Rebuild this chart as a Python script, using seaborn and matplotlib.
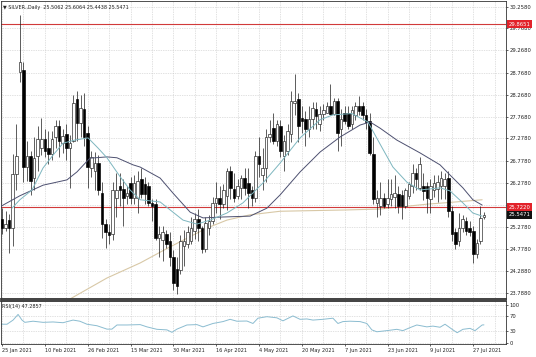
import numpy as np
import pandas as pd
import matplotlib
matplotlib.use("Agg")
import matplotlib.pyplot as plt
import matplotlib.transforms as mtransforms
import seaborn as sns

# ---------------- data ----------------
opens = [25.46, 25.26, 25.44, 25.26, 26.48, 28.77, 28.83, 26.62, 26.89, 26.39,
         26.89, 27.05, 27.27, 27.05, 26.93, 27.30, 27.57, 27.18, 27.38, 27.05,
         27.23, 28.18, 27.63, 27.95, 27.40, 26.60, 26.55, 26.73, 26.05, 25.35,
         25.15, 25.12, 25.92, 26.20, 26.14, 25.98, 26.26, 25.94, 25.94, 26.35,
         26.25, 26.20, 25.82, 25.80, 25.03, 24.98, 25.12, 24.96, 24.60, 24.32,
         24.29, 24.85, 24.90, 24.96, 25.19, 25.46, 25.24, 24.78, 25.24, 25.42,
         25.82, 25.92, 25.80, 25.98, 26.55, 26.14, 25.98, 26.16, 26.39, 26.26,
         26.10, 25.94, 26.89, 26.45, 26.60, 27.30, 27.52, 27.23, 27.56, 26.89,
         27.00, 27.38, 28.09, 28.18, 27.75, 27.72, 27.50, 27.72, 27.95, 27.60,
         27.84, 27.86, 28.02, 27.84, 28.13, 27.50, 27.86, 27.86, 27.60, 27.80,
         28.00, 28.00, 27.80, 27.68, 26.93, 25.82, 25.76, 25.94, 25.80, 25.90,
         25.95, 26.03, 26.00, 25.76, 25.98, 26.20, 26.50, 26.16, 26.20, 26.20,
         25.90, 26.10, 26.14, 26.20, 26.20, 26.39, 25.64, 25.15, 24.96, 25.24,
         25.42, 25.24, 25.19, 24.67, 24.96, 25.5062]
highs = [25.71, 25.64, 25.57, 26.93, 27.61, 30.06, 29.00, 27.23, 26.99, 27.30,
         27.55, 27.75, 27.50, 27.45, 27.45, 27.70, 27.70, 27.50, 27.60, 27.35,
         28.25, 28.36, 28.25, 28.30, 27.55, 27.00, 26.98, 26.90, 26.30, 25.45,
         25.35, 26.30, 26.50, 26.50, 26.35, 26.20, 26.40, 26.45, 26.55, 26.60,
         26.40, 26.30, 25.90, 25.90, 25.30, 25.30, 25.20, 25.15, 24.75, 24.60,
         25.10, 25.20, 25.30, 25.50, 25.60, 25.68, 25.30, 25.50, 25.55, 25.95,
         26.30, 26.20, 26.25, 26.60, 26.65, 26.50, 26.35, 26.45, 26.60, 26.60,
         26.20, 27.00, 27.30, 27.05, 27.50, 27.70, 27.85, 27.70, 27.70, 27.35,
         27.60, 28.36, 28.74, 28.30, 28.00, 27.90, 28.00, 28.10, 28.10, 28.00,
         28.05, 28.10, 28.52, 28.20, 28.20, 27.95, 28.00, 28.00, 28.00, 28.10,
         28.24, 28.10, 27.95, 27.85, 27.30, 26.10, 26.30, 26.05, 26.35, 26.35,
         26.45, 26.20, 26.10, 26.15, 26.30, 26.70, 26.60, 26.85, 26.50, 26.30,
         26.35, 26.45, 26.45, 26.55, 26.50, 26.55, 25.75, 25.25, 25.60, 25.55,
         25.50, 25.40, 25.30, 25.00, 25.75, 25.6064]
lows = [25.12, 25.19, 24.69, 24.85, 26.10, 28.55, 26.30, 26.32, 26.00, 26.10,
        26.55, 26.90, 26.85, 26.70, 26.80, 27.05, 26.85, 26.95, 26.80, 26.15,
        27.20, 27.23, 27.30, 27.10, 26.15, 26.40, 26.10, 26.00, 25.02, 24.81,
        24.90, 24.98, 25.50, 25.75, 25.30, 25.80, 25.80, 25.80, 25.60, 25.93,
        25.80, 25.75, 25.40, 24.98, 24.60, 24.50, 24.80, 24.40, 23.85, 23.76,
        24.20, 24.40, 24.80, 24.90, 25.00, 24.95, 24.68, 24.70, 25.10, 25.35,
        25.60, 25.45, 25.70, 25.65, 25.90, 25.85, 25.90, 25.90, 26.00, 25.70,
        25.75, 25.85, 26.40, 26.10, 26.30, 27.20, 27.15, 27.10, 26.85, 26.55,
        26.90, 27.20, 27.80, 27.20, 27.40, 27.10, 27.30, 27.50, 27.50, 27.45,
        27.70, 27.85, 27.80, 27.80, 27.00, 27.10, 27.60, 27.50, 27.50, 27.70,
        27.80, 27.70, 27.50, 26.90, 25.80, 25.50, 25.55, 25.70, 25.70, 25.75,
        25.70, 25.60, 25.45, 25.70, 25.90, 26.05, 26.10, 26.10, 25.88, 25.60,
        25.60, 25.95, 25.85, 25.90, 25.90, 25.50, 24.96, 24.78, 24.85, 25.15,
        25.10, 25.08, 24.46, 24.58, 24.90, 25.4438]
closes = [25.26, 25.35, 25.26, 26.48, 26.89, 29.00, 26.62, 26.89, 26.32, 26.84,
          27.27, 27.27, 27.00, 26.93, 27.27, 27.57, 27.23, 27.34, 27.05, 27.18,
          28.09, 27.63, 27.97, 27.30, 26.62, 26.86, 26.73, 26.10, 25.35, 25.15,
          25.10, 26.10, 26.10, 26.10, 25.94, 26.05, 25.94, 26.26, 26.32, 26.03,
          26.03, 25.82, 25.75, 25.03, 25.12, 25.15, 24.90, 24.60, 24.00, 23.93,
          24.96, 24.96, 25.15, 25.24, 25.46, 25.24, 24.78, 25.37, 25.42, 25.82,
          25.94, 25.80, 26.10, 26.55, 26.16, 25.94, 26.20, 26.39, 26.16, 26.05,
          25.94, 26.89, 26.70, 26.60, 27.30, 27.38, 27.23, 27.60, 27.00, 27.23,
          27.45, 28.13, 28.13, 27.57, 27.68, 27.50, 27.72, 27.97, 27.79, 27.84,
          27.91, 28.02, 27.84, 28.13, 27.41, 27.72, 27.68, 27.57, 27.91, 28.02,
          27.90, 27.80, 27.64, 26.95, 25.90, 25.94, 25.92, 25.76, 25.92, 26.03,
          26.05, 25.76, 25.76, 26.10, 26.25, 26.50, 26.35, 26.70, 26.08, 25.94,
          26.20, 26.26, 26.30, 26.39, 26.37, 25.64, 25.12, 24.90, 25.26, 25.46,
          25.19, 25.15, 24.67, 24.92, 25.48, 25.5471]

# moving-average lines, read as (bar, price) vertices
fast_ma_bar = [2.8, 5.0, 8.4, 11.5, 14.3, 17.1, 20.4, 24.1, 26.9, 29.4, 33.1, 35.9,
               38.7, 44.3, 50.7, 54.6, 58.3, 63.0, 67.5, 73.1, 77.9, 83.5, 89.1,
               92.7, 98.0, 102.5, 105.9, 109.5, 113.4, 117.1, 122.7, 125.5, 129.1,
               131.9, 134.5]
fast_ma_val = [25.70, 25.89, 26.11, 26.61, 26.90, 27.17, 27.24, 27.29, 27.06, 26.84,
               26.41, 26.11, 25.89, 25.84, 25.43, 25.34, 25.43, 25.59, 25.82, 26.27,
               26.72, 27.29, 27.70, 27.81, 27.84, 27.65, 27.15, 26.63, 26.29, 26.11,
               26.16, 26.09, 25.82, 25.59, 25.52]
slow_ma_bar = [-0.6, 5.0, 11.5, 18.2, 21.0, 24.6, 29.4, 32.2, 36.7, 38.7, 44.3, 47.9,
               52.7, 56.3, 61.9, 69.5, 74.2, 77.9, 83.5, 89.1, 94.7, 100.3, 103.1,
               105.9, 110.6, 117.1, 122.7, 125.5, 129.1, 131.9, 134.5]
slow_ma_val = [25.73, 25.98, 26.22, 26.34, 26.52, 26.83, 26.86, 26.84, 26.68, 26.63,
               26.38, 26.04, 25.61, 25.48, 25.50, 25.52, 25.70, 26.00, 26.52, 26.97,
               27.31, 27.58, 27.65, 27.51, 27.24, 26.95, 26.68, 26.45, 26.16, 25.89,
               25.77]
long_ma_bar = [18.5, 29.4, 38.7, 46.5, 57.4, 63.0, 69.5, 77.9, 96.6, 105.9, 119.0,
               125.5, 134.5]
long_ma_val = [23.62, 24.12, 24.46, 24.80, 25.25, 25.43, 25.55, 25.63, 25.66, 25.68,
               25.79, 25.83, 25.89]

rsi_bar = [-0.6, 1.4, 3.1, 4.5, 5.6, 6.4, 8.7, 11.5, 14.3, 17.1, 19.9, 21.8, 23.8,
           26.6, 29.4, 30.8, 32.2, 35.0, 38.7, 40.6, 43.4, 46.2, 47.6, 49.0, 51.8,
           54.6, 56.3, 59.1, 61.9, 63.9, 65.8, 68.6, 70.3, 71.7, 74.2, 77.0, 78.7,
           81.5, 83.5, 85.4, 87.1, 89.9, 92.7, 94.1, 95.5, 97.5, 100.3, 102.2,
           103.6, 105.0, 107.8, 110.6, 112.3, 114.3, 116.2, 119.0, 120.7, 122.7,
           124.1, 126.1, 127.5, 129.1, 131.1, 132.5, 133.3, 134.5, 135.0]
rsi_val = [49, 49, 60, 75, 60, 54, 57, 54, 55, 53, 60, 57, 49,
           45, 36, 36, 47, 47, 48, 42, 35.5, 34, 27.5, 36, 47,
           48, 42, 51, 56, 62, 57, 57.5, 51, 65, 69, 66, 58,
           71, 62, 63, 60, 62, 65, 51, 56, 57, 56, 51,
           34, 29, 32, 35.5, 32, 40, 47, 42, 44, 41,
           49, 35.5, 26.5, 35.5, 38, 32, 38, 47, 47.29]

price_ticks = [30.2580, 29.7680, 29.2680, 28.7680, 28.2680, 27.7680, 27.2780,
               26.7780, 26.2780, 25.7780, 25.2780, 24.7780, 24.2880, 23.7880]
rsi_ticks = [100, 70, 30, 0]
date_label_bars = [0, 12, 24, 36, 48, 60, 72, 84, 96, 108, 120, 132]
date_labels = ["25 Jan 2021", "10 Feb 2021", "26 Feb 2021", "15 Mar 2021",
               "30 Mar 2021", "16 Apr 2021", "4 May 2021", "20 May 2021",
               "7 Jun 2021", "23 Jun 2021", "9 Jul 2021", "27 Jul 2021"]
red_levels = [29.8651, 25.7220]
last_price = 25.5471
title_text = "\u25bc SILVER.,Daily  25.5062 25.6064 25.4438 25.5471"
rsi_text = "RSI(14) 47.2857"

# ---------------- styling ----------------
sns.set_theme(style="white")
plt.rcParams["font.family"] = ["DejaVu Sans"]

W, H = 536, 357
fig = plt.figure(figsize=(W / 100, H / 100), dpi=100)
fig.patch.set_facecolor("white")


def frac(x0, y0, x1, y1):
    return [x0 / W, 1 - y1 / H, (x1 - x0) / W, (y1 - y0) / H]


ax = fig.add_axes(frac(0.5, 0.5, 506, 299))
axr = fig.add_axes(frac(0.5, 301, 506, 344))

grid_kw = dict(color="#c4c4c4", linestyle=(0, (1, 1.5)), linewidth=0.5)
edge = "#1c1c1c"

df = pd.DataFrame({"bar": np.arange(len(closes)), "open": opens, "high": highs,
                   "low": lows, "close": closes})
up = df["close"] >= df["open"]

ax.vlines(df["bar"], df["low"], df["high"], color=edge, linewidth=0.5, zorder=3)
ax.bar(df["bar"][up], (df["close"] - df["open"])[up], bottom=df["open"][up],
       width=0.72, color="white", edgecolor=edge, linewidth=0.45, zorder=4)
ax.bar(df["bar"][~up], (df["open"] - df["close"])[~up], bottom=df["close"][~up],
       width=0.72, color="black", edgecolor="black", linewidth=0.45, zorder=4)

sns.lineplot(x=long_ma_bar, y=long_ma_val, ax=ax, color="#d8c8a6", linewidth=0.8,
             sort=False, estimator=None, zorder=2)
sns.lineplot(x=slow_ma_bar, y=slow_ma_val, ax=ax, color="#4d5070", linewidth=0.7,
             sort=False, estimator=None, zorder=5)
sns.lineplot(x=fast_ma_bar, y=fast_ma_val, ax=ax, color="#7db6bf", linewidth=0.7,
             sort=False, estimator=None, zorder=5)

for lvl in red_levels:
    ax.axhline(lvl, color="#d13a3a", linewidth=0.8, zorder=2)

ax.set_xlim(-0.42, 141.18)
ax.set_ylim(23.645, 30.398)
ax.set_xticks(np.arange(0, 141, 6))
ax.set_xticklabels([])
ax.tick_params(axis="x", length=0)
ax.yaxis.tick_right()
ax.set_yticks(price_ticks)
ax.set_yticklabels([f"{v:.4f}" for v in price_ticks])
ax.tick_params(axis="y", length=1.6, width=0.5, pad=1.0, labelsize=3.8,
               colors="#222222", right=True, left=False)
ax.grid(True, **grid_kw)
ax.set_axisbelow(True)
ax.set_xlabel("")
ax.set_ylabel("")
for s in ax.spines.values():
    s.set_color("#333333")
    s.set_linewidth(0.6)
ax.spines["bottom"].set_linewidth(1.3)

# price labels on the right axis
blend = mtransforms.blended_transform_factory(ax.transAxes, ax.transData)
shift = mtransforms.ScaledTranslation(1.8 / 72, 0, fig.dpi_scale_trans)
for lvl in red_levels:
    ax.text(1.0, lvl, f"{lvl:.4f}", transform=blend + shift, ha="left", va="center",
            fontsize=3.8, color="white", zorder=10, clip_on=False,
            bbox=dict(boxstyle="square,pad=0.35", fc="#e2222a", ec="none"))
ax.text(1.0, last_price, f"{last_price:.4f}", transform=blend + shift, ha="left",
        va="center", fontsize=3.8, color="white", zorder=10, clip_on=False,
        bbox=dict(boxstyle="square,pad=0.35", fc="#111111", ec="none"))

# RSI panel
sns.lineplot(x=rsi_bar, y=rsi_val, ax=axr, color="#8bbcd0", linewidth=0.7,
             sort=False, estimator=None)
axr.set_xlim(-0.42, 141.18)
axr.set_ylim(-3.45, 110.6)
axr.set_xticks(date_label_bars)
axr.set_xticklabels(date_labels)
axr.set_xticks(np.arange(6, 141, 12), minor=True)
for lbl in axr.get_xticklabels():
    lbl.set_horizontalalignment("left")
axr.tick_params(axis="x", which="major", length=1.6, width=0.5, pad=1.2,
                labelsize=3.6, colors="#222222", bottom=True)
axr.tick_params(axis="x", which="minor", length=0)
axr.yaxis.tick_right()
axr.set_yticks(rsi_ticks)
axr.set_yticklabels([str(v) for v in rsi_ticks])
axr.tick_params(axis="y", length=1.6, width=0.5, pad=1.0, labelsize=3.8,
                colors="#222222", right=True, left=False)
axr.grid(True, which="both", **grid_kw)
axr.set_axisbelow(True)
axr.set_xlabel("")
axr.set_ylabel("")
for s in axr.spines.values():
    s.set_color("#333333")
    s.set_linewidth(0.6)
axr.spines["top"].set_linewidth(1.3)

fig.text(3 / W, 1 - 7 / H, title_text, fontsize=3.5, ha="left", va="center",
         color="#222222")
fig.text(2 / W, 1 - 306.5 / H, rsi_text, fontsize=3.5, ha="left", va="center",
         color="#222222")

fig.savefig("out.png", dpi=100, facecolor="white")
